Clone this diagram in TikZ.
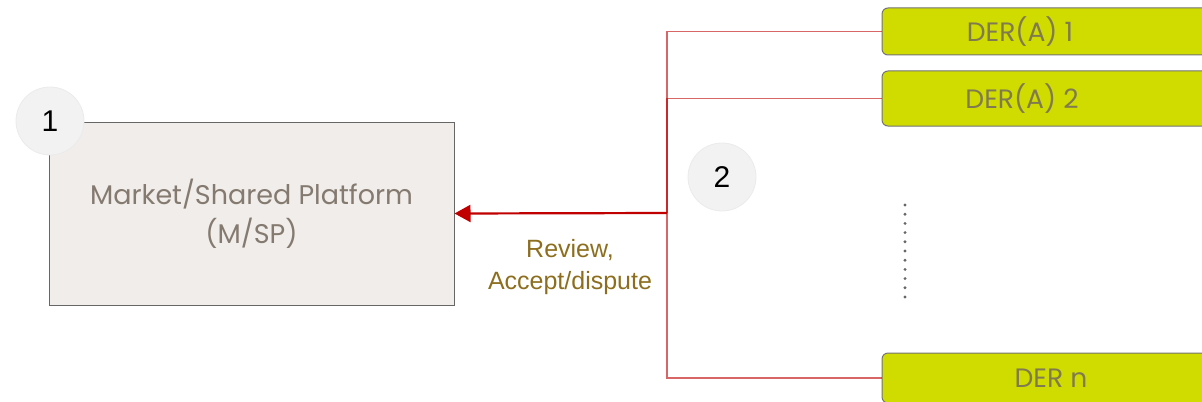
\documentclass[tikz,border=0pt]{standalone}
\usepackage{fontspec}
\setmainfont{Poppins}
\newfontfamily\arialfont{Liberation Sans}
\usetikzlibrary{arrows.meta}

\definecolor{boxFill}{RGB}{240,237,234}
\definecolor{boxText}{RGB}{133,122,112}
\definecolor{derFill}{RGB}{208,220,0}
\definecolor{derText}{RGB}{128,122,80}
\definecolor{linkRed}{RGB}{192,0,0}
\definecolor{labelBrown}{RGB}{140,110,30}
\definecolor{stepGray}{RGB}{242,242,242}

\def \stepRadius {34pt}

\tikzset{
  platform/.style={draw=black!60, fill=boxFill, line width=0.5pt, text=boxText,
    minimum width=202.5pt, minimum height=91.5pt, align=center,
    font=\fontsize{13.5}{19.5}\selectfont},
  derbox/.style={draw=black!55, fill=derFill, line width=0.5pt, rounded corners=3pt,
    minimum width=170pt},
  dertext/.style={text=derText, font=\fontsize{13.3}{16}\selectfont},
  stepmark/.style={circle, fill=stepGray, draw=black!8, minimum size=\stepRadius,
    inner sep=0pt, font=\arialfont\fontsize{15}{17}\selectfont},
  link/.style={draw=linkRed, draw opacity=0.6, line width=0.8pt},
}

\begin{document}
\begin{tikzpicture}[x=0.5pt, y=-0.5pt]
         \useasboundingbox (0, 0) rectangle (1202, 401);

         % Khoi M/SP
         \node[platform] (msp) at (251.5, 213.5) {Market/Shared Platform\\(M/SP)};
         \node[stepmark] (step1) at (50, 121) {1};

         % Cac khoi DER
         \node[derbox, minimum height=23.5pt] (der1) at (1052, 31.5) {};
         \node[derbox, minimum height=27.5pt] (der2) at (1052, 98.5) {};
         \node[derbox, minimum height=25pt] (dern) at (1052, 378) {};
         \node[dertext] (der1txt) at (1020, 31.5) {DER(A) 1};
         \node[dertext] (der2txt) at (1022, 98.5) {DER(A) 2};
         \node[dertext] (derntxt) at (1051, 378) {DER n};

         % Duong noi
         \coordinate (hub) at (667, 213);
         \draw[link] (der1.west) -| (hub);
         \draw[link] (der2.west) -| (hub);
         \draw[link] (dern.west) -| (hub);
         \draw[linkRed, line width=1.1pt, -{Triangle[length=8pt, width=8.5pt]}] (hub) -- (msp.east);

         \node[stepmark] (step2) at (722, 177) {2};
         \node[text=labelBrown, align=center, font=\arialfont\fontsize{12.5}{16}\selectfont]
              (review) at (570, 267) {Review,\\Accept/dispute};

         % Dau cham
         \coordinate (dotTop) at (905, 205);
         \coordinate (dotBot) at (905, 298);
         \draw[black!60, line width=1.6pt, line cap=round, dash pattern=on 0pt off 4.6pt] (dotTop) -- (dotBot);
\end{tikzpicture}
\end{document}
